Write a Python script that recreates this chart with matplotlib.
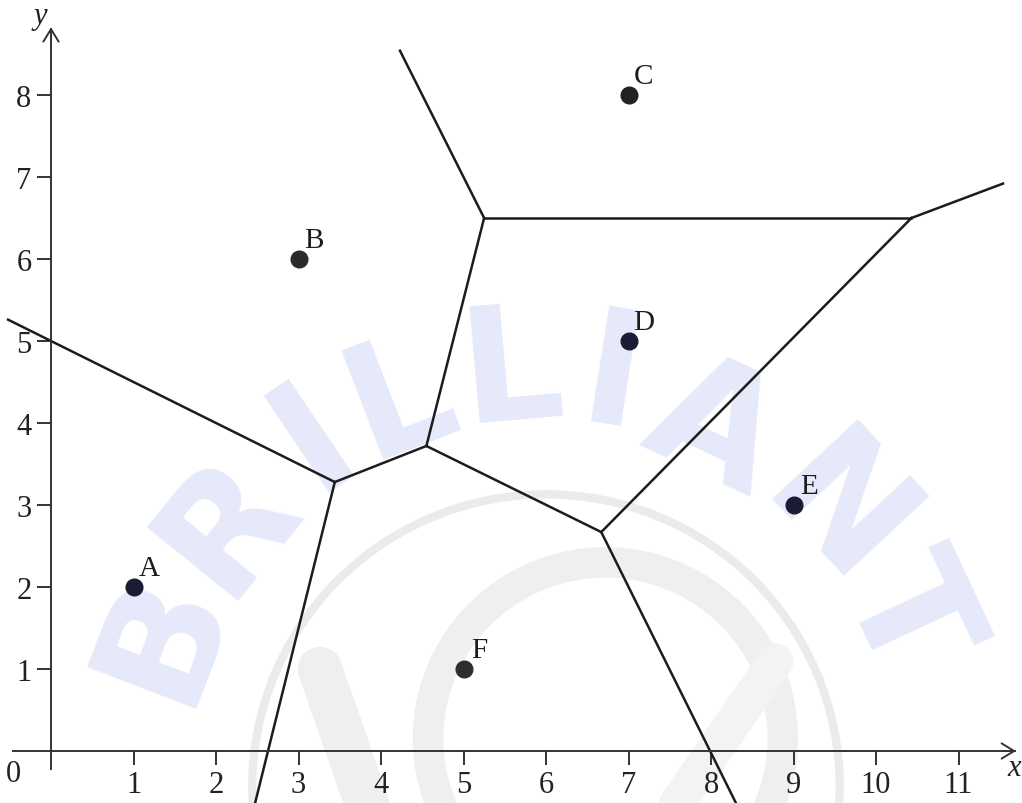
import numpy as np
import matplotlib.pyplot as plt
from matplotlib.patches import Circle, Arc

plt.rcParams['font.family'] = ['Liberation Serif', 'DejaVu Serif']

# sites
names = ['A', 'B', 'C', 'D', 'E', 'F']
px = [1, 3, 7, 7, 9, 5]
py = [2, 6, 8, 5, 3, 1]
dot_colors = ['#1b1b35', '#2b2b2b', '#222222', '#1b1b35', '#1b1b35', '#2e2e2e']

# voronoi vertices
vx = [3.44, 4.55, 5.25, 10.43, 6.67]
vy = [3.28, 3.72, 6.50, 6.50, 2.67]
# finite edges between vertices
edges = [(0, 1), (1, 2), (2, 3), (1, 4), (3, 4)]
# rays: vertex index -> far end point
ray_from = [0, 0, 2, 3, 4]
ray_x = [-0.52, 2.47, 4.23, 11.54, 8.31]
ray_y = [5.26, -0.65, 8.54, 6.92, -0.65]

xticks = list(range(1, 12))
yticks = list(range(1, 9))

# watermark letters, their angle on the arc (degrees) and distance from its centre
wm_letters = list('BRILLIANT')
wm_angles = [159, 141, 124, 111, 95, 81, 65, 43, 25]
wm_radius = [5.0, 5.0, 5.05, 5.0, 5.0, 4.95, 4.75, 4.75, 4.78]

fig = plt.figure(figsize=(10.22, 8.04), dpi=100)
ax = fig.add_axes([0, 0, 1, 1])
ax.set_xlim(-51 / 82.5, (1022 - 51) / 82.5)
ax.set_ylim(-52 / 82.0, 752 / 82.0)

# faint watermark
ax.add_patch(Circle((6.0, -0.43), 3.56, fill=False, lw=6, color='#ebebeb', zorder=0))
ax.add_patch(Arc((6.72, 0.15), 4.3, 4.3, theta1=-25, theta2=205, lw=22, color='#efefef', zorder=0))
ax.plot([3.26, 3.85], [1.0, -0.7], lw=32, color='#efefef', solid_capstyle='round', zorder=0)
ax.plot([8.78, 7.55], [1.09, -0.7], lw=26, color='#f3f3f3', solid_capstyle='round', zorder=0)
for ch, a, r in zip(wm_letters, wm_angles, wm_radius):
    t = np.radians(a)
    ax.text(6.02 + r * np.cos(t), -0.37 + r * np.sin(t), ch, fontsize=116,
            fontweight='bold', family=['Liberation Sans Narrow', 'DejaVu Sans'],
            color='#e6e9f9', rotation=a - 90, rotation_mode='anchor',
            ha='center', va='center', zorder=0)

# voronoi edges
for i, j in edges:
    ax.plot([vx[i], vx[j]], [vy[i], vy[j]], color='#1c1c1c', lw=1.8, zorder=2)
for k, ex, ey in zip(ray_from, ray_x, ray_y):
    ax.plot([vx[k], ex], [vy[k], ey], color='#1c1c1c', lw=1.8, zorder=2)

# sites
for n, x, y, c in zip(names, px, py, dot_colors):
    ax.plot(x, y, 'o', ms=12, color=c, zorder=3)
    ax.annotate(n, (x, y), xytext=(11, 14), textcoords='offset points',
                ha='center', va='center', fontsize=21, color='#1c1c1c')

# axes
for s in ['top', 'right']:
    ax.spines[s].set_visible(False)
ax.spines['left'].set_position(('data', 0))
ax.spines['bottom'].set_position(('data', 0))
ax.spines['left'].set_bounds(-0.22, 8.8)
ax.spines['bottom'].set_bounds(-0.46, 11.68)
for s in ['left', 'bottom']:
    ax.spines[s].set_color('#333333')
    ax.spines[s].set_linewidth(1.4)
ax.annotate('', xy=(11.73, 0), xytext=(11.5, 0),
            arrowprops=dict(arrowstyle='->, head_length=0.9, head_width=0.55', color='#333333', lw=1.4))
ax.annotate('', xy=(0, 8.86), xytext=(0, 8.6),
            arrowprops=dict(arrowstyle='->, head_length=0.9, head_width=0.55', color='#333333', lw=1.4))

ax.set_xticks(xticks)
ax.set_yticks(yticks)
ax.tick_params(direction='out', length=10, width=1.4, color='#333333',
               labelsize=22, labelcolor='#222222', pad=4)
ax.text(-0.45, -0.28, '0', fontsize=22, color='#222222', ha='center', va='center')
ax.text(-0.13, 8.97, 'y', fontsize=22, style='italic', color='#222222', ha='center', va='center')
ax.text(11.67, -0.2, 'x', fontsize=22, style='italic', color='#222222', ha='center', va='center')

fig.savefig('out.png', dpi=100)
